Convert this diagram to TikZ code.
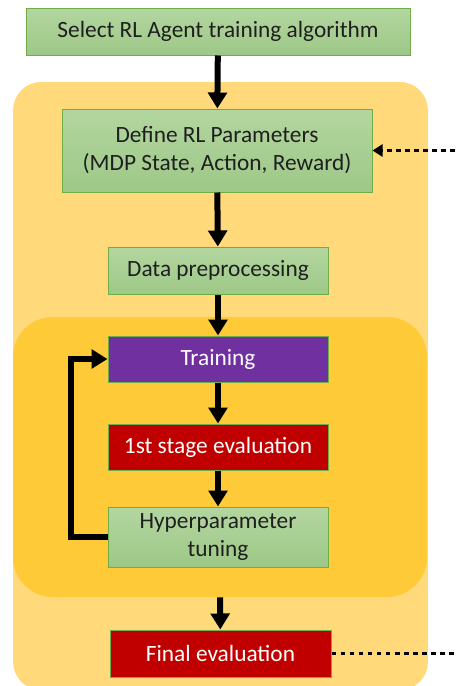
\documentclass[tikz,border=0pt]{standalone}
\usepackage{fontspec}
\setmainfont{Carlito}
\usetikzlibrary{arrows.meta}

\definecolor{outerbg}{HTML}{FFD97A}
\definecolor{innerbg}{HTML}{FFCA38}
\definecolor{greentop}{HTML}{B3D6A0}
\definecolor{greenbot}{HTML}{9DC887}
\definecolor{greenedge}{HTML}{70AD47}
\definecolor{purplebox}{HTML}{7030A0}
\definecolor{redbox}{HTML}{C00000}

\begin{document}
\begin{tikzpicture}[x=0.75pt, y=-0.75pt,
  >={Triangle[width=14pt,length=12pt]},
  font=\fontsize{17.5}{21}\selectfont,
  stepgreen/.style={draw=greenedge, line width=0.75pt, top color=greentop,
    bottom color=greenbot, text=black!88, align=center, inner sep=0pt},
  stepcolor/.style={draw=greenedge, line width=0.75pt, fill=#1, text=white,
    align=center, inner sep=0pt},
  panel/.style={fill=#1, draw=none, inner sep=0pt},
  flow/.style={->, line width=4.5pt},
  feedback/.style={-{Triangle[width=9pt,length=7.5pt]}, line width=2.25pt,
    dash pattern=on 3.4pt off 3.4pt}]

  \useasboundingbox (0,0) rectangle (455,686);

  % Fondos
  \node[panel=outerbg, rounded corners=21pt, minimum width=311pt,
    minimum height=456pt] (outer) at (220.5,386) {};
  \node[panel=innerbg, rounded corners=30pt, minimum width=310.5pt,
    minimum height=210pt] (inner) at (220,457) {};

  % Cajas
  \node[stepgreen, minimum width=288pt, minimum height=35.25pt] (select) at (218,31.5)
    {Select RL Agent training algorithm};
  \node[stepgreen, minimum width=232.5pt, minimum height=62.25pt] (define) at (217,150.5)
    {Define RL Parameters\\(MDP State, Action, Reward)};
  \node[stepgreen, minimum width=165pt, minimum height=35.25pt] (prep) at (218,270.5)
    {Data preprocessing};
  \node[stepcolor=purplebox, minimum width=165pt, minimum height=34.5pt] (train) at (218,359)
    {Training};
  \node[stepcolor=redbox, minimum width=165pt, minimum height=34.5pt] (eval) at (218,447)
    {1st stage evaluation};
  \node[stepgreen, minimum width=165pt, minimum height=45pt] (tune) at (218,537)
    {Hyperparameter\\tuning};
  \node[stepcolor=redbox, minimum width=165.75pt, minimum height=35.25pt] (final) at (220.5,653.5)
    {Final evaluation};

  % Flechas
  \draw[flow] (select) -- (define);
  \draw[flow] (define) -- (prep);
  \draw[flow] (prep) -- (train);
  \draw[flow] (train) -- (eval);
  \draw[flow] (eval) -- (tune);
  \draw[flow] (inner.south) -- (final);
  \draw[flow, rounded corners=0pt] (tune.west) -- ++(-37,0) |- (train.west);

  % Retroalimentacion punteada
  \coordinate (fbin) at (455,150.5);
  \coordinate (fbout) at (455,653.5);
  \draw[feedback] (fbin) -- (define);
  \draw[feedback, -] (final) -- (fbout);

\end{tikzpicture}
\end{document}
